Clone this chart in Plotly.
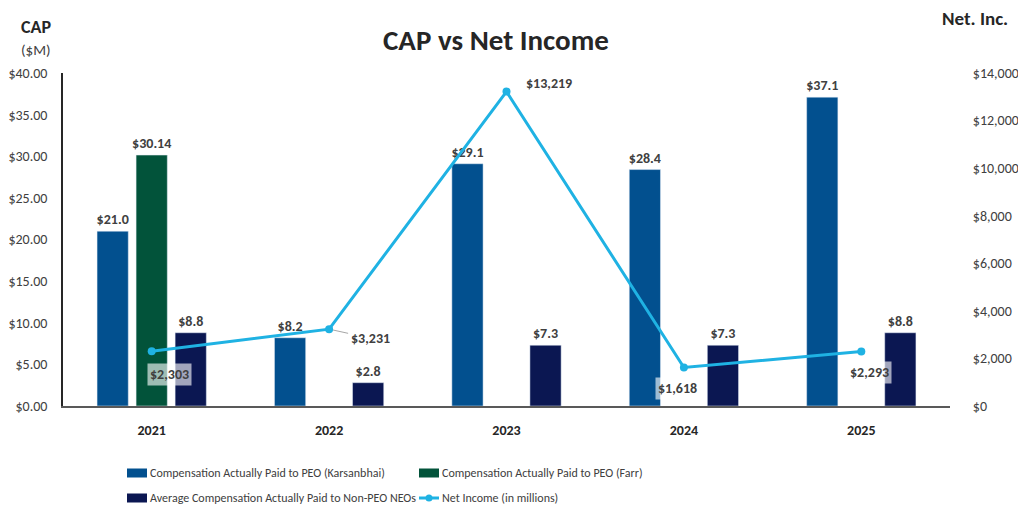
import plotly.graph_objects as go

years = ["2021", "2022", "2023", "2024", "2025"]
cap_karsanbhai = [21.0, 8.2, 29.1, 28.4, 37.1]
cap_farr = [30.14, None, None, None, None]
cap_non_peo = [8.8, 2.8, 7.3, 7.3, 8.8]
net_income = [2303, 3231, 13219, 1618, 2293]

left_ticks = [0, 5, 10, 15, 20, 25, 30, 35, 40]
right_ticks = [0, 2000, 4000, 6000, 8000, 10000, 12000, 14000]

FONT = "Carlito, Lato, sans-serif"
TXT = "#404040"
C_KARS = "#02508F"
C_FARR = "#02533A"
C_NEO = "#0B1752"
C_NI = "#1FB2E3"

W, H = 1018, 508
L, R, T, B = 63, 68, 73, 102
pw, ph = W - L - R, H - T - B


def px_to_paper(px, py):
    return (px - L) / pw, (H - B - py) / ph


def labels(values, fmt):
    # one template per bar; empty slots get no label
    return [fmt if v is not None else "" for v in values]


fig = go.Figure()

bar_font = dict(family=FONT, size=14, color=TXT)
fig.add_trace(go.Bar(
    x=years, y=cap_karsanbhai, name="Compensation Actually Paid to PEO (Karsanbhai)",
    marker_color=C_KARS, texttemplate=labels(cap_karsanbhai, "<b>$%{y:.1f}</b>"),
    textposition="outside", textfont=bar_font, constraintext="none",
))
fig.add_trace(go.Bar(
    x=years, y=cap_farr, name="Compensation Actually Paid to PEO (Farr)",
    marker_color=C_FARR, texttemplate=labels(cap_farr, "<b>$%{y:.2f}</b>"),
    textposition="outside", textfont=bar_font, constraintext="none",
))
fig.add_trace(go.Bar(
    x=years, y=cap_non_peo, name="Average Compensation Actually Paid to Non-PEO NEOs",
    marker_color=C_NEO, texttemplate=labels(cap_non_peo, "<b>$%{y:.1f}</b>"),
    textposition="outside", textfont=bar_font, constraintext="none",
))
fig.add_trace(go.Scatter(
    x=years, y=net_income, name="Net Income (in millions)", yaxis="y2",
    mode="lines+markers", line=dict(color=C_NI, width=3),
    marker=dict(color=C_NI, size=8),
))

# Net income value labels; x given as category index, offsets in pixels
ni_offsets = [(18, -23, False), (41, -9, True), (42, 8, False), (-6, -21, False), (8, -21, False)]
for i, (val, (dx, dy, arrow)) in enumerate(zip(net_income, ni_offsets)):
    common = dict(x=i, y=val, xref="x", yref="y2", text=f"<b>${val:,.0f}</b>",
                  font=dict(family=FONT, size=14, color=TXT),
                  bgcolor="rgba(255,255,255,0.62)", borderpad=2)
    if arrow:
        fig.add_annotation(**common, showarrow=True, arrowhead=0, arrowwidth=1,
                           arrowcolor="#A6A6A6", ax=dx, ay=-dy, standoff=4)
    else:
        fig.add_annotation(**common, showarrow=False, xshift=dx, yshift=dy)

# Chart and axis titles, positioned in pixels
for text, px, py, size, color in [
    ("<b>CAP vs Net Income</b>", 496, 40, 29, "#262626"),
    ("<b>CAP</b>", 36, 27, 18, "#262626"),
    ("($M)", 36, 50, 15, TXT),
    ("<b>Net. Inc.</b>", 975, 18, 19, "#262626"),
]:
    ax_, ay_ = px_to_paper(px, py)
    fig.add_annotation(text=text, x=ax_, y=ay_, xref="paper", yref="paper",
                       xanchor="center", yanchor="middle", showarrow=False,
                       font=dict(family=FONT, size=size, color=color))

# Key below the plot: swatch + label per series
key = [
    (fig.data[0].name, C_KARS, "bar", 127, 473),
    (fig.data[1].name, C_FARR, "bar", 419, 473),
    (fig.data[2].name, C_NEO, "bar", 127, 498),
    (fig.data[3].name, C_NI, "line", 419, 498),
]
for name, color, kind, px, py in key:
    x0, y0 = px_to_paper(px, py - 4.5)
    x1, y1 = px_to_paper(px + 20, py + 4.5)
    ym = (y0 + y1) / 2
    if kind == "bar":
        fig.add_shape(type="rect", xref="paper", yref="paper", x0=x0, x1=x1, y0=y1, y1=y0,
                      fillcolor=color, line=dict(width=0))
    else:
        fig.add_shape(type="line", xref="paper", yref="paper", x0=x0, x1=x1, y0=ym, y1=ym,
                      line=dict(color=color, width=3))
        cx0, cy0 = px_to_paper(px + 6.5, py - 3.5)
        cx1, cy1 = px_to_paper(px + 13.5, py + 3.5)
        fig.add_shape(type="circle", xref="paper", yref="paper", x0=cx0, x1=cx1,
                      y0=cy1, y1=cy0, fillcolor=color, line=dict(width=0))
    tx, _ = px_to_paper(px + 21, py)
    fig.add_annotation(text=name, x=tx, y=ym, xref="paper", yref="paper",
                       xanchor="left", yanchor="middle", showarrow=False,
                       font=dict(family=FONT, size=12, color=TXT))

fig.update_layout(
    width=W, height=H,
    margin=dict(l=L, r=R, t=T, b=B, autoexpand=False),
    plot_bgcolor="white", paper_bgcolor="white",
    barmode="group", bargap=0.34, bargroupgap=0.2,
    showlegend=False,
    font=dict(family=FONT, color=TXT),
    xaxis=dict(type="category", range=[-0.5, 4.5], showline=True, linecolor="#595959",
               linewidth=1.5, ticks="outside", ticklen=10, tickcolor="rgba(0,0,0,0)",
               tickvals=years, ticktext=[f"<b>{y}</b>" for y in years], automargin=False,
               tickfont=dict(family=FONT, size=14, color="#262626")),
    yaxis=dict(range=[0, 40], tickvals=left_ticks,
               ticktext=[f"${v:.2f}" for v in left_ticks], automargin=False,
               showgrid=False, zeroline=False, showline=True, linecolor="#262626", linewidth=1.5,
               ticks="outside", ticklen=11, tickcolor="rgba(0,0,0,0)",
               tickfont=dict(family=FONT, size=14, color=TXT)),
    yaxis2=dict(range=[0, 14000], tickvals=right_ticks,
                ticktext=[f"${v:,.0f}" for v in right_ticks], automargin=False,
                overlaying="y", side="right", showgrid=False, zeroline=False, showline=False,
                ticks="outside", ticklen=19, tickcolor="rgba(0,0,0,0)",
                tickfont=dict(family=FONT, size=14, color=TXT)),
)

fig.write_html("out.html")
